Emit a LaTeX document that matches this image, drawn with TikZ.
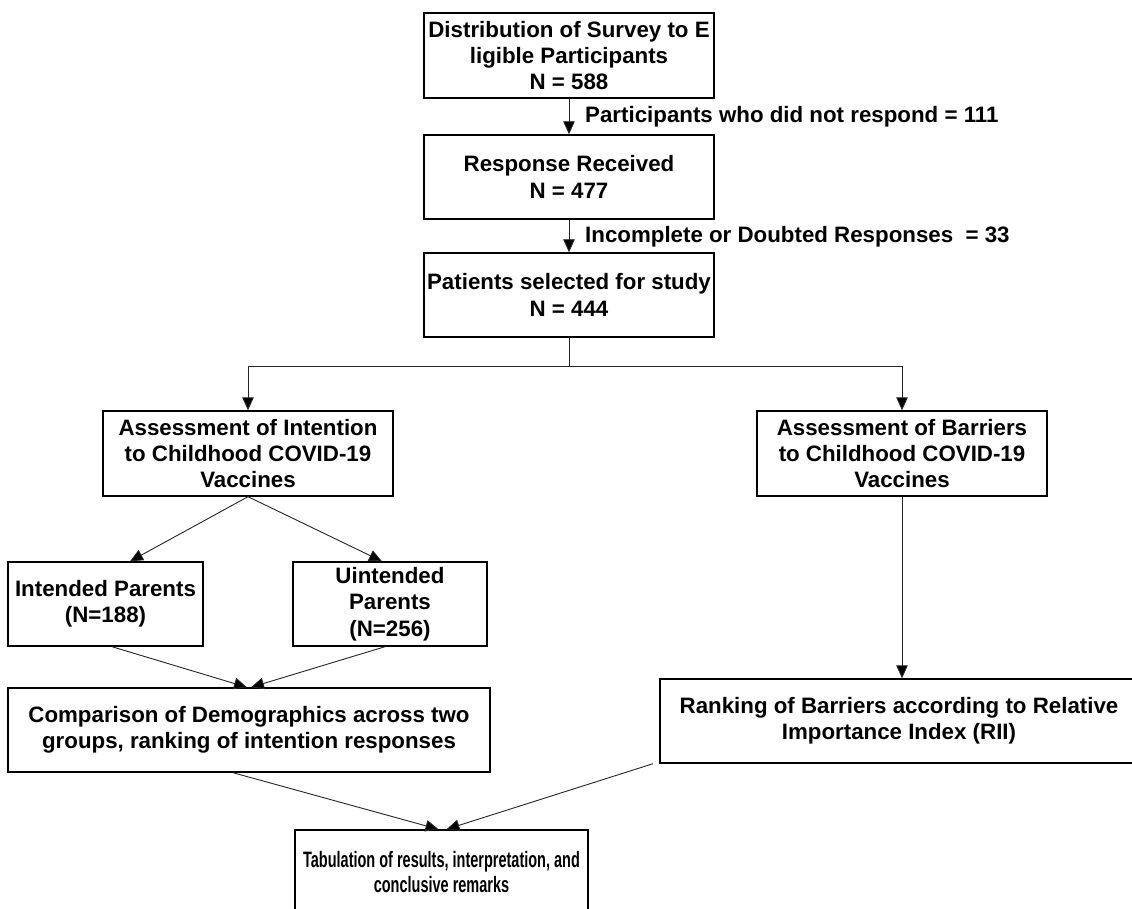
\documentclass[tikz,border=0pt]{standalone}
\usepackage{fontspec}
\setmainfont{Liberation Sans}
\newfontfamily\narrowfont[FakeStretch=0.65]{Liberation Sans}
\usetikzlibrary{arrows.meta}
\tikzset{
  box/.style={draw=black, line width=1.4pt, inner sep=0pt, align=center,
    font=\fontsize{22.3}{26.3}\selectfont\bfseries},
  lbl/.style={inner sep=0pt, anchor=base west,
    font=\fontsize{22.3}{26.3}\selectfont\bfseries},
  arr/.style={draw=black!85, line width=0.9pt, -{Triangle[length=13pt,width=11.5pt,fill=black]}},
  ln/.style={draw=black!85, line width=0.9pt}
}
\begin{document}
\begin{tikzpicture}[x=1pt,y=-1pt]
\useasboundingbox (0,0) rectangle (1132,909);
\clip (0,0) rectangle (1132,909);
\fill[white] (0,0) rectangle (1132,909);

\node[box, minimum width=290pt, minimum height=85pt] (b1) at (569,55.5)
  {Distribution of Survey to E\\ligible Participants\\N = 588};
\node[box, minimum width=290pt, minimum height=84pt] (b2) at (569,177)
  {Response Received\\N = 477};
\node[box, minimum width=290pt, minimum height=84pt] (b3) at (569,295)
  {Patients selected for study\\N = 444};
\node[box, minimum width=290pt, minimum height=85pt] (b4) at (248,453.5)
  {Assessment of Intention\\to Childhood COVID-19\\Vaccines};
\node[box, minimum width=290pt, minimum height=85pt] (b5) at (902,453.5)
  {Assessment of Barriers\\to Childhood COVID-19\\Vaccines};
\node[box, minimum width=195pt, minimum height=84pt] (b6) at (105.5,604)
  {Intended Parents\\(N=188)};
\node[box, minimum width=194pt, minimum height=84pt] (b7) at (390,604)
  {Uintended\\Parents\\(N=256)};
\node[box, minimum width=482pt, minimum height=84pt] (b8) at (249,730)
  {Comparison of Demographics across two\\groups, ranking of intention responses};
\node[box, minimum width=478pt, minimum height=84pt] (b9) at (899,721)
  {Ranking of Barriers according to Relative\\Importance Index (RII)};
\node[box, minimum width=293pt, minimum height=84pt,
  font=\fontsize{22.3}{25}\selectfont\narrowfont\bfseries] (b10) at (441.5,872)
  {Tabulation of results, interpretation, and\\conclusive remarks};

\node[lbl] (l1) at (585,123) {Participants who did not respond = 111};
\node[lbl] (l2) at (585,243) {Incomplete or Doubted Responses~~= 33};

\coordinate (split) at (569,366);

\draw[arr] (b1.south) -- (b2.north);
\draw[arr] (b2.south) -- (b3.north);
\draw[ln] (b3.south) -- (split);
\draw[arr] (split) -| (b4.north);
\draw[arr] (split) -| (b5.north);
\draw[arr] (b4.south) -- ([xshift=24.5pt]b6.north);
\draw[arr] (b4.south) -- ([xshift=-8pt]b7.north);
\draw[arr] ([xshift=6.5pt]b6.south) -- ([xshift=-2pt]b8.north);
\draw[arr] ([xshift=-5pt]b7.south) -- ([xshift=2pt]b8.north);
\draw[arr] (b5.south) -- (b9.north -| b5.south);
\draw[arr] ([xshift=-16pt]b8.south) -- ([xshift=-3pt]b10.north);
\draw[arr] ([xshift=-246pt]b9.south) -- ([xshift=5pt]b10.north);
\end{tikzpicture}
\end{document}
